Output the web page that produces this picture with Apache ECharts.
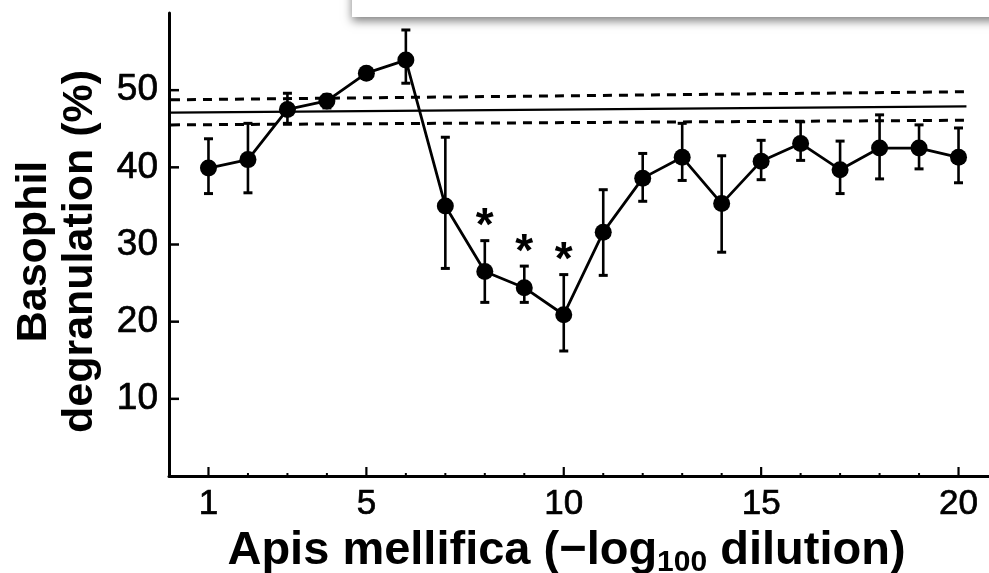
<!DOCTYPE html>
<html>
<head>
<meta charset="utf-8">
<script src="https://cdn.jsdelivr.net/npm/echarts@6/dist/echarts.min.js"></script>
<style>
  html, body { margin: 0; padding: 0; background: #fff; }
  #chart { width: 989px; height: 573px; }
</style>
</head>
<body>
<div id="chart"></div>
<script>
// ---- data ----
const dilution = [1, 2, 3, 4, 5, 6, 7, 8, 9, 10, 11, 12, 13, 14, 15, 16, 17, 18, 19, 20];
const degranulation = [39.9, 41.0, 47.5, 48.6, 52.2, 53.9, 35.0, 26.5, 24.4, 20.9, 31.6, 38.6, 41.3, 35.3, 40.8, 43.1, 39.7, 42.5, 42.5, 41.3];
const errUpper = [43.7, 45.7, 49.6, 49.4, 52.7, 57.8, 43.9, 30.5, 27.2, 26.1, 37.1, 41.8, 45.7, 41.5, 43.5, 45.9, 43.4, 46.8, 45.5, 45.1];
const errLower = [36.6, 36.7, 45.7, 47.7, 51.7, 50.9, 26.9, 22.5, 22.5, 16.2, 26.0, 35.6, 38.3, 29.0, 38.4, 40.9, 36.6, 38.5, 39.8, 38.0];
const significant = [8, 9, 10];
const refLineX = [0.05, 20.2];
const controlMean = [47.1, 47.9];
const controlUpper = [48.75, 49.8];
const controlLower = [45.5, 46.1];
const xLabelTicks = [1, 5, 10, 15, 20];
const yTickValues = [10, 20, 30, 40, 50];

const FONT = "'Liberation Sans', Arial, Helvetica, sans-serif";

const seriesData = dilution.map((x, i) => [x, degranulation[i]]);
const errData = dilution.map((x, i) => [x, errLower[i], errUpper[i]]);
const starData = significant.map(x => [x, errUpper[dilution.indexOf(x)]]);
const xMajor = xLabelTicks.map(v => [v, 1]);
const xMinor = dilution.filter(v => xLabelTicks.indexOf(v) < 0).map(v => [v, 0]);

const chart = echarts.init(document.getElementById('chart'), null, { renderer: 'canvas' });

chart.setOption({
  animation: false,
  backgroundColor: '#ffffff',
  grid: { left: 169, top: 13, right: -9, bottom: 97, containLabel: false, outerBoundsMode: 'none' },
  xAxis: {
    type: 'value', min: 0, max: 21, interval: 1,
    axisLine: { show: true, lineStyle: { color: '#000', width: 3 } },
    axisTick: { show: false },
    splitLine: { show: false },
    axisLabel: {
      margin: 11, color: '#000', fontFamily: FONT, fontSize: 35,
      textBorderColor: '#000', textBorderWidth: 0.7,
      formatter: v => (xLabelTicks.indexOf(v) >= 0 ? String(v) : '')
    },
    name: 'Apis mellifica (\u2212log{sub|100} dilution)',
    nameLocation: 'middle', nameGap: 46,
    nameTextStyle: {
      color: '#000', fontFamily: FONT, fontSize: 47, fontWeight: 'bold',
      padding: [0, 34, 0, 0],
      rich: {
        sub: { fontFamily: FONT, fontSize: 30, fontWeight: 'bold', color: '#000', padding: [24, 0, 0, 0] }
      }
    }
  },
  yAxis: {
    type: 'value', min: 0, max: 60, interval: 10,
    axisLine: { show: true, lineStyle: { color: '#000', width: 3 } },
    axisTick: { show: false },
    splitLine: { show: false },
    axisLabel: {
      margin: 11, color: '#000', fontFamily: FONT, fontSize: 37,
      textBorderColor: '#000', textBorderWidth: 0.7,
      formatter: v => (yTickValues.indexOf(v) >= 0 ? String(v) : '')
    },
    name: 'Basophil\ndegranulation (%)',
    nameLocation: 'middle', nameGap: 66, nameRotate: 90,
    nameTextStyle: {
      color: '#000', fontFamily: FONT, fontSize: 43, fontWeight: 'bold', lineHeight: 46,
      padding: [0, 14, 0, 0]
    }
  },
  series: [
    { // control mean
      type: 'line', data: refLineX.map((x, i) => [x, controlMean[i]]),
      showSymbol: false, silent: true,
      lineStyle: { color: '#000', width: 2.3, type: 'solid' }
    },
    { // control upper
      type: 'line', data: refLineX.map((x, i) => [x, controlUpper[i]]),
      showSymbol: false, silent: true,
      lineStyle: { color: '#000', width: 3, type: [9, 7] }
    },
    { // control lower
      type: 'line', data: refLineX.map((x, i) => [x, controlLower[i]]),
      showSymbol: false, silent: true,
      lineStyle: { color: '#000', width: 3, type: [9, 7] }
    },
    { // error bars
      type: 'custom', data: errData, z: 3,
      renderItem: function (params, api) {
        const x = api.value(0);
        const lo = api.coord([x, api.value(1)]);
        const hi = api.coord([x, api.value(2)]);
        const cw = 4.5;
        return {
          type: 'group',
          children: [
            { type: 'line', shape: { x1: lo[0], y1: lo[1], x2: hi[0], y2: hi[1] }, style: { stroke: '#000', lineWidth: 2.6 } },
            { type: 'line', shape: { x1: lo[0] - cw, y1: lo[1], x2: lo[0] + cw, y2: lo[1] }, style: { stroke: '#000', lineWidth: 3 } },
            { type: 'line', shape: { x1: hi[0] - cw, y1: hi[1], x2: hi[0] + cw, y2: hi[1] }, style: { stroke: '#000', lineWidth: 3 } }
          ]
        };
      }
    },
    { // main series
      type: 'line', data: seriesData, z: 4,
      symbol: 'circle', symbolSize: 17,
      itemStyle: { color: '#000' },
      lineStyle: { color: '#000', width: 2.8 }
    },
    { // significance asterisks
      type: 'custom', data: starData, z: 5,
      renderItem: function (params, api) {
        const p = api.coord([api.value(0), api.value(1)]);
        return {
          type: 'text',
          style: {
            text: '*', x: p[0], y: p[1] + 10, align: 'center', verticalAlign: 'bottom',
            font: 'bold 46px ' + FONT, fill: '#000'
          }
        };
      }
    },
    { // x axis ticks
      type: 'custom', data: xMajor.concat(xMinor), z: 6,
      renderItem: function (params, api) {
        const p = api.coord([api.value(0), 0]);
        const major = api.value(1) === 1;
        const len = major ? 9 : 3;
        return {
          type: 'line',
          shape: { x1: p[0], y1: p[1], x2: p[0], y2: p[1] - len },
          style: { stroke: '#000', lineWidth: major ? 2.2 : 2 }
        };
      }
    },
    { // y axis ticks
      type: 'custom', data: yTickValues.map(v => [0, v]), z: 6,
      renderItem: function (params, api) {
        const p = api.coord([0, api.value(1)]);
        return {
          type: 'line',
          shape: { x1: p[0], y1: p[1], x2: p[0] + 10, y2: p[1] },
          style: { stroke: '#000', lineWidth: 2.5 }
        };
      }
    }
  ],
  graphic: [
    {
      type: 'rect', z: 100,
      shape: { x: 352, y: -40, width: 700, height: 57 },
      style: { fill: '#ffffff', shadowBlur: 9, shadowOffsetY: 4, shadowColor: 'rgba(0,0,0,0.5)' }
    }
  ]
});
</script>
</body>
</html>
